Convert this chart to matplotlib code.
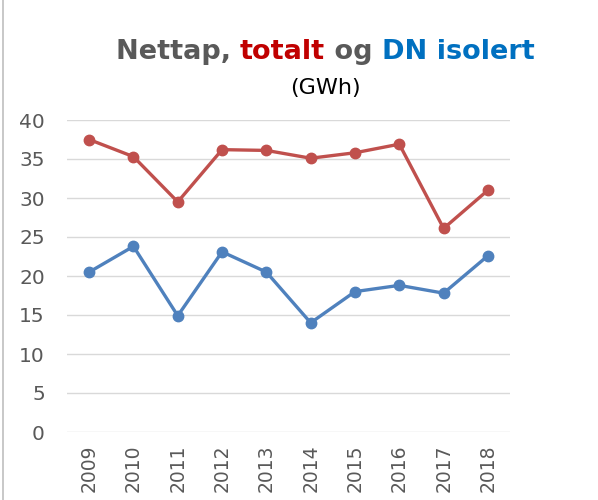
import matplotlib
matplotlib.use("Agg")
import matplotlib.pyplot as plt
import numpy as np

years = ["2009", "2010", "2011", "2012", "2013", "2014", "2015", "2016", "2017", "2018"]
totalt = [37.5, 35.3, 29.5, 36.2, 36.1, 35.1, 35.8, 36.9, 26.1, 31.0]
dn_isolert = [20.5, 23.8, 14.9, 23.1, 20.5, 14.0, 18.0, 18.8, 17.8, 22.6]

red = "#C0504D"
blue = "#4F81BD"
grey = "#595959"

fig = plt.figure(figsize=(5.98, 5.0), dpi=100)
ax = fig.add_axes([0.112, 0.136, 0.741, 0.624])

x = np.arange(len(years))
ax.plot(x, totalt, color=red, lw=2.4, marker="o", ms=7.5, solid_capstyle="round")
ax.plot(x, dn_isolert, color=blue, lw=2.4, marker="o", ms=7.5, solid_capstyle="round")

ax.set_xlim(-0.5, len(years) - 0.5)
ax.set_ylim(0, 40)
ax.set_yticks(range(0, 41, 5))
ax.set_xticks(x)
ax.set_xticklabels(years, rotation=90)
ax.grid(axis="y", color="#D9D9D9", lw=1)
ax.set_axisbelow(True)
for s in ax.spines.values():
    s.set_visible(False)
ax.tick_params(length=0, colors=grey, labelsize=13.5)
ax.tick_params(axis="y", pad=16, labelsize=14.5)
ax.tick_params(axis="x", pad=9)

# chart frame at left edge
fig.add_artist(plt.Line2D([0.005, 0.005], [0, 1], color="#BFBFBF", lw=1.2, transform=fig.transFigure))

# title in several colours
parts = [("Nettap, ", grey), ("totalt", "#C00000"), (" og ", grey), ("DN isolert", "#0070C0")]
fig.canvas.draw()
renderer = fig.canvas.get_renderer()
widths = []
texts = []
for s, c in parts:
    t = fig.text(0, 0.896, s, color=c, fontsize=19.5, fontweight="bold", va="center", ha="left")
    texts.append(t)
    widths.append(t.get_window_extent(renderer).width)
total_w = sum(widths)
x0 = 0.544 * fig.bbox.width - total_w / 2
for t, w in zip(texts, widths):
    t.set_x(x0 / fig.bbox.width)
    x0 += w
fig.text(0.544, 0.824, "(GWh)", color="black", fontsize=16, ha="center", va="center")

fig.savefig("out.png", dpi=100)
